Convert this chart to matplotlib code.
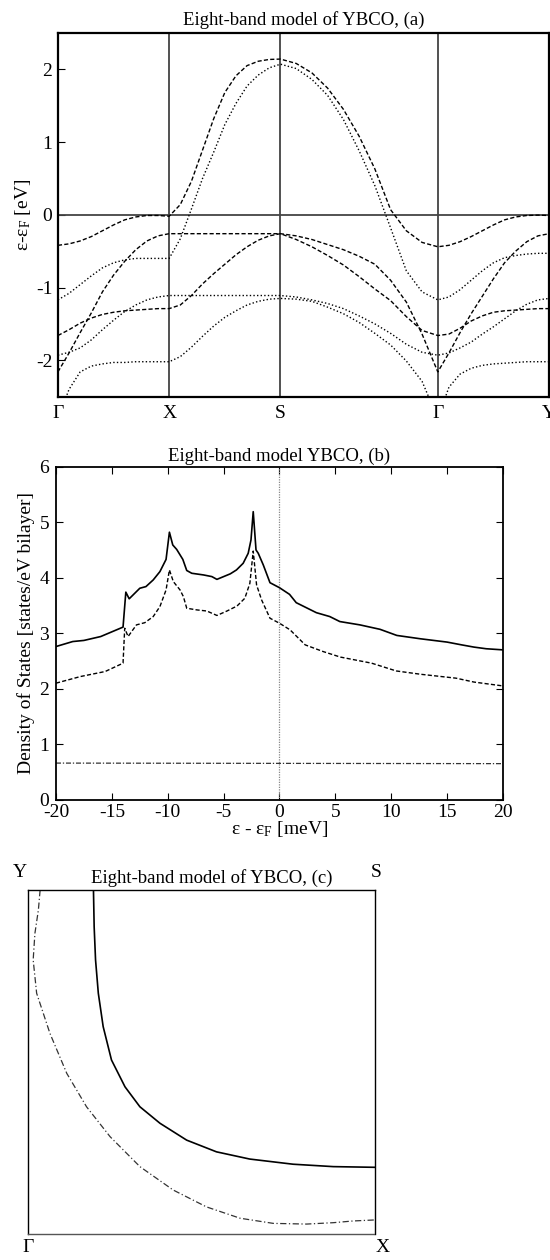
import numpy as np
import matplotlib
matplotlib.use('Agg')
import matplotlib.pyplot as plt

plt.rcParams['font.family'] = ['Liberation Serif', 'DejaVu Serif']
plt.rcParams['mathtext.fontset'] = 'custom'
plt.rcParams['mathtext.rm'] = 'Liberation Serif'
plt.rcParams['mathtext.it'] = 'Liberation Serif:italic'
plt.rcParams['font.size'] = 14
plt.rcParams['axes.unicode_minus'] = False

# ---- (a) bands along G-X-S-G-Y, 10 samples per segment ----
path_labels = ['Γ', 'X', 'S', 'Γ', 'Y']
seg_lengths = [1.0, 1.0, np.sqrt(2), 1.0]
n_per_seg = 10

# dashed bands (even)
band_d1 = [-0.42, -0.40, -0.36, -0.30, -0.22, -0.14, -0.07, -0.03, -0.01, -0.01, -0.02,
           0.14, 0.46, 0.89, 1.32, 1.68, 1.91, 2.05, 2.11, 2.135, 2.14,
           2.08, 1.95, 1.74, 1.45, 1.08, 0.63, 0.07, -0.22, -0.38, -0.44,
           -0.42, -0.37, -0.30, -0.22, -0.14, -0.07, -0.03, -0.01, -0.005, -0.01]
band_d2 = [-2.16, -1.90, -1.62, -1.35, -1.06, -0.83, -0.64, -0.48, -0.36, -0.29, -0.26,
           -0.26, -0.26, -0.26, -0.26, -0.26, -0.26, -0.26, -0.26, -0.26, -0.26,
           -0.29, -0.34, -0.41, -0.48, -0.57, -0.68, -0.90, -1.20, -1.64, -2.16,
           -1.90, -1.62, -1.36, -1.12, -0.88, -0.66, -0.50, -0.37, -0.29, -0.26]
band_d3 = [-1.66, -1.58, -1.49, -1.42, -1.37, -1.34, -1.32, -1.31, -1.30, -1.29, -1.29,
           -1.24, -1.11, -0.95, -0.81, -0.68, -0.55, -0.44, -0.35, -0.29, -0.26,
           -0.34, -0.44, -0.56, -0.69, -0.85, -1.02, -1.18, -1.40, -1.59, -1.66,
           -1.64, -1.56, -1.46, -1.39, -1.34, -1.32, -1.31, -1.30, -1.29, -1.29]
# dotted bands (odd)
band_p1 = [-1.17, -1.08, -0.96, -0.84, -0.73, -0.66, -0.62, -0.60, -0.60, -0.60, -0.60,
           -0.33, 0.08, 0.50, 0.86, 1.24, 1.53, 1.77, 1.92, 2.02, 2.07,
           2.01, 1.86, 1.64, 1.31, 0.88, 0.40, -0.18, -0.77, -1.06, -1.17,
           -1.13, -1.03, -0.90, -0.77, -0.66, -0.59, -0.56, -0.54, -0.53, -0.53]
band_p2 = [-1.93, -1.89, -1.83, -1.72, -1.58, -1.45, -1.33, -1.24, -1.17, -1.13, -1.11,
           -1.11, -1.11, -1.11, -1.11, -1.11, -1.11, -1.11, -1.11, -1.11, -1.11,
           -1.13, -1.17, -1.22, -1.29, -1.39, -1.50, -1.63, -1.78, -1.89, -1.93,
           -1.90, -1.83, -1.75, -1.64, -1.54, -1.43, -1.32, -1.23, -1.17, -1.15]
band_p3 = [-2.80, -2.40, -2.16, -2.08, -2.05, -2.03, -2.03, -2.02, -2.02, -2.02, -2.02,
           -1.95, -1.82, -1.67, -1.53, -1.41, -1.32, -1.24, -1.19, -1.16, -1.15,
           -1.16, -1.19, -1.27, -1.36, -1.48, -1.63, -1.79, -2.01, -2.29, -2.80,
           -2.37, -2.19, -2.11, -2.07, -2.05, -2.04, -2.03, -2.02, -2.02, -2.02]

# ---- (b) density of states ----
dos_tot_e = [-20, -18.5, -17.5, -16, -14, -13.75, -13.45, -12.5, -11.95, -11.3, -10.7,
             -10.15, -9.85, -9.55, -9.2, -8.65, -8.3, -7.85, -6.8, -6.05, -5.6, -5.0,
             -4.4, -3.85, -3.25, -2.8, -2.55, -2.35, -2.1, -1.9, -1.45, -0.85, 0.0,
             0.9, 1.5, 3.3, 4.5, 5.4, 7.2, 9.0, 10.5, 12.6, 15.0, 16.3, 17.4, 18.5, 20]
dos_tot = [2.76, 2.85, 2.87, 2.94, 3.11, 3.74, 3.62, 3.81, 3.84, 3.96, 4.11,
           4.33, 4.82, 4.59, 4.51, 4.33, 4.13, 4.08, 4.05, 4.02, 3.97, 4.02,
           4.07, 4.14, 4.26, 4.44, 4.68, 5.19, 4.50, 4.44, 4.23, 3.91, 3.82,
           3.70, 3.55, 3.37, 3.30, 3.21, 3.15, 3.07, 2.96, 2.90, 2.84, 2.79, 2.75, 2.72, 2.70]
dos_part_e = [-20, -17.8, -15.6, -14.0, -13.85, -13.55, -12.8, -12.05, -11.3, -10.7,
              -10.15, -9.85, -9.5, -8.9, -8.6, -8.3, -7.4, -6.5, -5.6, -4.7, -3.8,
              -3.1, -2.65, -2.35, -2.05, -1.6, -0.85, 0.0, 0.95, 1.85, 2.3, 3.9,
              5.45, 8.25, 10.45, 12.65, 15.8, 17.4, 20]
dos_part = [2.10, 2.22, 2.31, 2.46, 3.09, 2.94, 3.15, 3.19, 3.30, 3.48,
            3.78, 4.14, 3.93, 3.78, 3.66, 3.45, 3.42, 3.40, 3.32, 3.40, 3.49,
            3.63, 3.90, 4.48, 3.87, 3.60, 3.27, 3.18, 3.06, 2.88, 2.79, 2.67,
            2.57, 2.46, 2.32, 2.26, 2.19, 2.12, 2.05]
dos_chain_e = [-20, 20]
dos_chain = [0.66, 0.65]

# ---- (c) Fermi surface in the quarter zone ----
fs_solid_kx = [0.188, 0.190, 0.194, 0.202, 0.216, 0.240, 0.279, 0.322, 0.380,
               0.457, 0.543, 0.639, 0.764, 0.880, 1.0]
fs_solid_ky = [1.0, 0.893, 0.797, 0.700, 0.603, 0.506, 0.428, 0.370, 0.322,
               0.273, 0.239, 0.218, 0.203, 0.196, 0.194]
fs_chain_kx = [0.034, 0.029, 0.019, 0.014, 0.024, 0.0625, 0.111, 0.168, 0.236,
               0.322, 0.418, 0.514, 0.611, 0.707, 0.803, 0.880, 0.9375, 1.0]
fs_chain_ky = [1.0, 0.942, 0.874, 0.797, 0.700, 0.583, 0.467, 0.370, 0.283,
               0.196, 0.128, 0.079, 0.046, 0.031, 0.029, 0.033, 0.038, 0.041]

DASH = (0, (3, 1.6))
DOT = (0, (1, 1.6))


def path_positions():
    k = [0.0]
    start = 0.0
    for length in seg_lengths:
        for i in range(1, n_per_seg + 1):
            k.append(start + length * i / n_per_seg)
        start += length
    ticks = np.concatenate([[0.0], np.cumsum(seg_lengths)])
    return np.array(k), ticks


def plot_bands(ax):
    k, ticks = path_positions()
    for t in ticks[1:-1]:
        ax.axvline(t, color='#222222', lw=1.1)
    ax.axhline(0, color='#444444', lw=1.3)
    for band in [band_d1, band_d2, band_d3]:
        ax.plot(k, band, color='black', lw=1.0, ls=DASH)
    for band in [band_p1, band_p2, band_p3]:
        ax.plot(k, band, color='black', lw=1.0, ls=DOT)
    ax.set_xlim(ticks[0], ticks[-1])
    ax.set_ylim(-2.5, 2.5)
    ax.set_xticks(ticks)
    ax.set_xticklabels(path_labels)
    ax.set_yticks([-2, -1, 0, 1, 2])
    ax.tick_params(axis='x', length=0, pad=6)
    ax.tick_params(axis='y', direction='in', length=5, pad=4)
    ax.set_ylabel('ε-ε$_{\\rm F}$ [eV]', labelpad=2)
    ax.set_title('Eight-band model of YBCO, (a)', fontsize=13.5, pad=6)
    for sp in ax.spines.values():
        sp.set_linewidth(1.6)


def plot_dos(ax):
    ax.axvline(0, color='#888888', lw=0.9, ls=(0, (1, 1)))
    ax.plot(dos_tot_e, dos_tot, color='black', lw=1.2)
    ax.plot(dos_part_e, dos_part, color='black', lw=1.0, ls=DASH)
    ax.plot(dos_chain_e, dos_chain, color='#333333', lw=0.9, ls=(0, (4, 1.5, 1, 1.5)))
    ax.set_xlim(-20, 20)
    ax.set_ylim(0, 6)
    ax.set_xticks(range(-20, 21, 5))
    ax.set_yticks(range(0, 7))
    ax.tick_params(direction='in', length=5, top=True, right=True)
    ax.tick_params(axis='x', pad=3)
    ax.tick_params(axis='y', pad=5)
    ax.set_xlabel('ε - ε$_{\\rm F}$ [meV]', labelpad=-1)
    ax.set_ylabel('Density of States [states/eV bilayer]', labelpad=3)
    ax.set_title('Eight-band model YBCO, (b)', fontsize=13.5, pad=4)
    for sp in ax.spines.values():
        sp.set_linewidth(1.3)


def plot_fermi_surface(ax):
    ax.plot(fs_solid_kx, fs_solid_ky, color='black', lw=1.2)
    ax.plot(fs_chain_kx, fs_chain_ky, color='#333333', lw=0.9, ls=(0, (5, 2, 1, 2)))
    ax.set_xlim(0, 1)
    ax.set_ylim(0, 1)
    ax.set_xticks([])
    ax.set_yticks([])
    for sp in ax.spines.values():
        sp.set_linewidth(1.0)
    ax.spines['bottom'].set_linestyle((0, (1, 1)))
    ax.spines['bottom'].set_color('#555555')
    ax.set_title('Eight-band model of YBCO, (c)', fontsize=13.5, pad=5, x=0.53)
    corners = [('Y', -0.024, 1.05), ('S', 1.005, 1.05), ('Γ', 0.0, -0.04), ('X', 1.022, -0.04)]
    for name, cx, cy in corners:
        ax.text(cx, cy, name, transform=ax.transAxes, ha='center', va='center',
                fontsize=14, clip_on=False)


def main():
    fig = plt.figure(figsize=(5.5, 12.6), dpi=100)
    ax_a = fig.add_axes([0.1053, 0.6852, 0.8930, 0.2887])
    ax_b = fig.add_axes([0.1018, 0.3653, 0.8127, 0.2643])
    ax_c = fig.add_axes([0.0515, 0.0206, 0.6300, 0.2730])
    plot_bands(ax_a)
    plot_dos(ax_b)
    plot_fermi_surface(ax_c)
    fig.savefig('out.png', dpi=100)


if __name__ == "__main__":
    main()
